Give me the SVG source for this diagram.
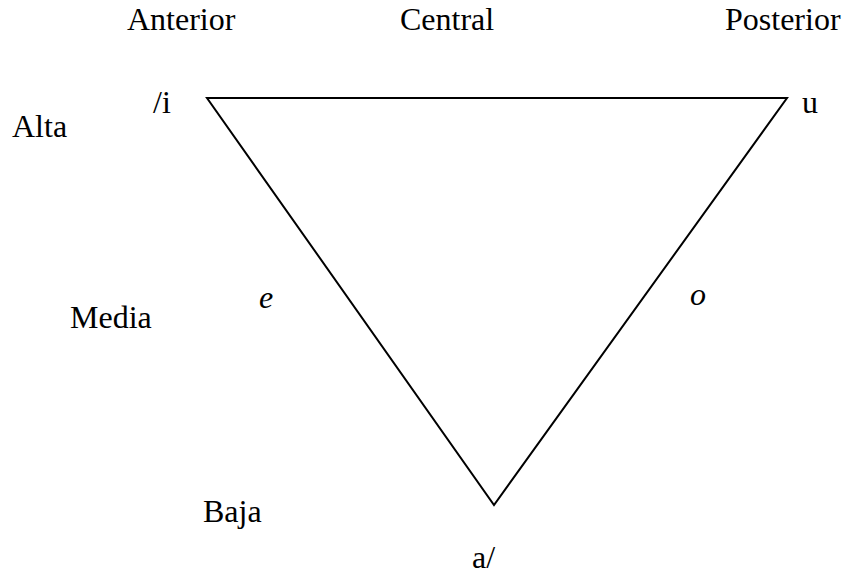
<svg xmlns="http://www.w3.org/2000/svg" width="845" height="575" viewBox="0 0 845 575" font-family="'Liberation Serif', 'Times New Roman', serif" font-size="32">
<style>
.it{font-style:italic}
.tri{fill:none;stroke:#000;stroke-width:2}
</style>
<rect width="845" height="575" fill="#fff"/>
<g id="labels" fill="#000">
<text x="127" y="30">Anterior</text>
<text x="400" y="30">Central</text>
<text x="725" y="30">Posterior</text>
<text x="12" y="137">Alta</text>
<text x="70" y="328">Media</text>
<text x="203" y="522">Baja</text>
</g>
<g id="node-i"><text x="153" y="113">/i</text></g>
<g id="node-u"><text x="802" y="113">u</text></g>
<g id="node-e"><text class="it" x="259" y="308">e</text></g>
<g id="node-o"><text class="it" x="690" y="305">o</text></g>
<g id="node-a"><text x="472" y="568">a/</text></g>
<g id="connectors">
<polygon class="tri" points="207,98 787,98 494,505"/>
</g>
</svg>
